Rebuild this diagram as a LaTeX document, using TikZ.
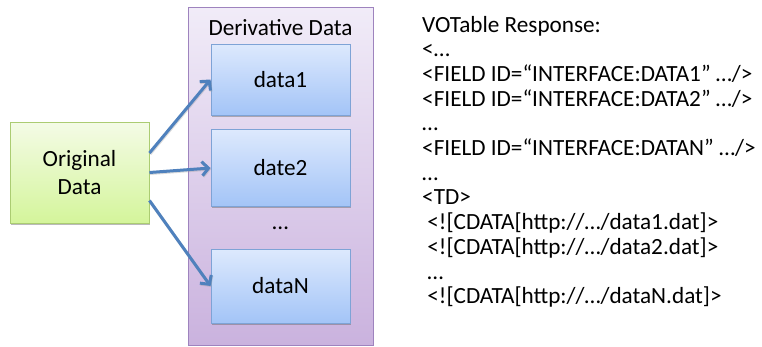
\documentclass[tikz,border=0pt]{standalone}
\usepackage{fontspec}
\setmainfont{Carlito}
\usetikzlibrary{arrows.meta,shadows}
\definecolor{blueTop}{HTML}{DDE9FD}
\definecolor{blueBot}{HTML}{A3C4F7}
\definecolor{blueBorder}{HTML}{7EA3D6}
\definecolor{greenTop}{HTML}{F4FBE6}
\definecolor{greenBot}{HTML}{D4F59B}
\definecolor{greenBorder}{HTML}{ABCC72}
\definecolor{purpTop}{HTML}{F1ECF8}
\definecolor{purpBot}{HTML}{CAB2DE}
\definecolor{purpBorder}{HTML}{9E83BE}
\definecolor{arrowBlue}{HTML}{4F81BD}
\tikzset{
  txt/.style={font=\fontsize{23.2}{27.5}\selectfont, inner sep=0pt},
  boxshadow/.style={drop shadow={shadow xshift=0.6pt, shadow yshift=-1.8pt, opacity=0.45, fill=black!60}},
  databox/.style={txt, draw=blueBorder, line width=0.9pt, top color=blueTop, bottom color=blueBot,
    minimum width=139pt, boxshadow},
  origbox/.style={txt, draw=greenBorder, line width=0.9pt, top color=greenTop, bottom color=greenBot,
    minimum width=139pt, minimum height=101pt, align=center, boxshadow},
  outerbox/.style={draw=purpBorder, line width=0.9pt, top color=purpTop, bottom color=purpBot,
    minimum width=185pt, minimum height=338pt, inner sep=0pt},
  link/.style={draw=arrowBlue, line width=3pt, -{Straight Barb[length=6.5pt,width=14pt,line width=3pt]},
    preaction={draw=black!40, opacity=0.35, line width=3pt, transform canvas={xshift=0.6pt,yshift=-1pt}}},
  line/.style={txt, anchor=base west},
}
\begin{document}
\begin{tikzpicture}[x=1pt,y=-1pt]
\fill[white] (0,0) rectangle (762,346);
\useasboundingbox (0,0) rectangle (762,346);

\node[outerbox] (outer) at (280.5,176) {};
\node[txt, anchor=base] (title) at (280.5,35) {Derivative Data};
\node[databox, minimum height=71pt] (d1) at (280.5,79.5) {data1};
\node[databox, minimum height=77pt] (d2) at (280.5,168) {date2};
\node[txt, anchor=base] (dots) at (280.5,229) {…};
\node[databox, minimum height=74pt] (dN) at (280.5,286) {dataN};

\node[origbox] (orig) at (79.5,172.5) {Original\\[0pt]Data};

\draw[link] ([yshift=19.5pt]orig.east) -- (d1.west);
\draw[link] (orig.east) -- (d2.west);
\draw[link] ([yshift=-28pt]orig.east) -- (dN.west);

\node[line] (t1)  at (422,32)    {VOTable Response:};
\node[line] (t2)  at (422,56.7)  {<…};
\node[line] (t3)  at (422,81.4)  {<FIELD ID=“INTERFACE:DATA1” …/>};
\node[line] (t4)  at (422,106.1) {<FIELD ID=“INTERFACE:DATA2” …/>};
\node[line] (t5)  at (422,130.8) {…};
\node[line] (t6)  at (422,155.5) {<FIELD ID=“INTERFACE:DATAN” …/>};
\node[line] (t7)  at (422,180.2) {…};
\node[line] (t8)  at (422,204.9) {<TD>};
\node[line] (t9)  at (422,229.6) {\hspace*{5.2pt}<![CDATA[http://…/data1.dat]>};
\node[line] (t10) at (422,254.3) {\hspace*{5.2pt}<![CDATA[http://…/data2.dat]>};
\node[line] (t11) at (422,279)   {\hspace*{5.2pt}…};
\node[line] (t12) at (422,303.7) {\hspace*{5.2pt}<![CDATA[http://…/dataN.dat]>};
\end{tikzpicture}
\end{document}
